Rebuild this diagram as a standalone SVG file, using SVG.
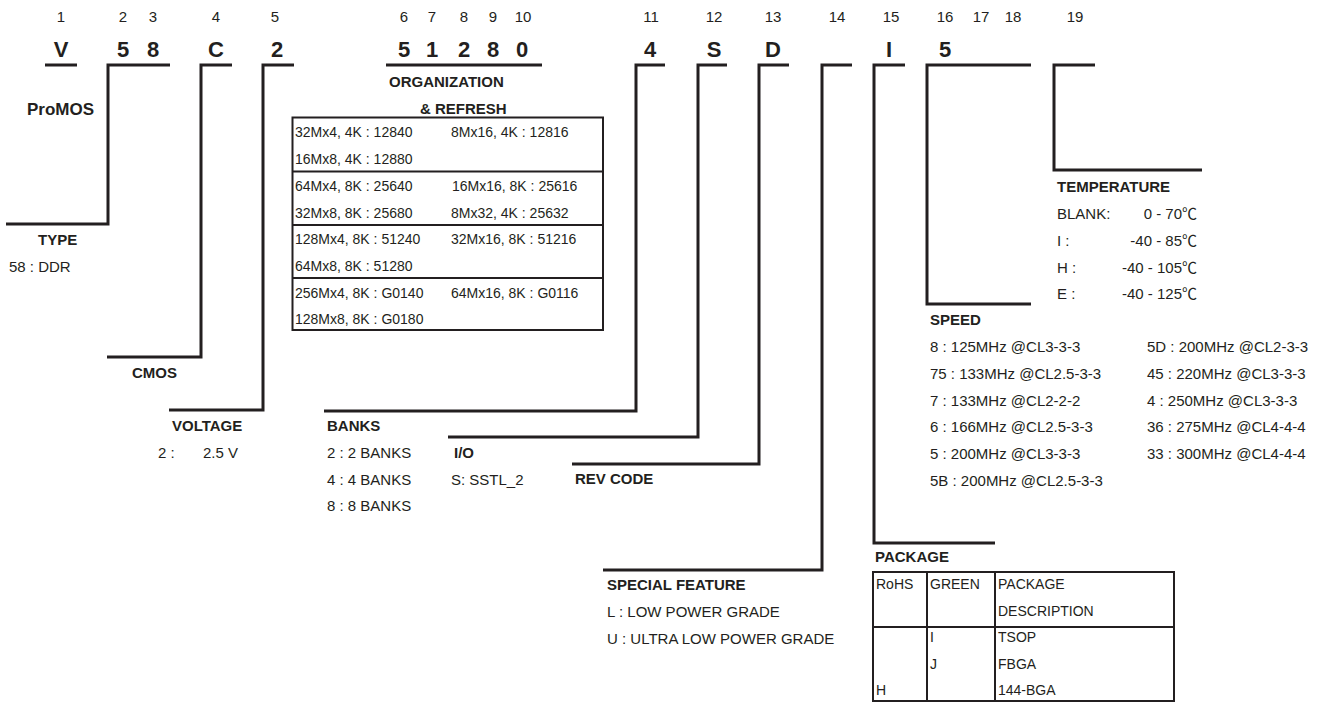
<svg xmlns="http://www.w3.org/2000/svg" width="1326" height="702" viewBox="0 0 1326 702">
<style>
text{font-family:"Liberation Sans",Arial,"Noto Sans CJK SC",sans-serif;fill:#231f20}
.n{font-size:15px;text-anchor:middle}
.b{font-size:22px;font-weight:bold;text-anchor:middle}
.t{font-size:15px;font-weight:bold}
.x{font-size:15px}
.s{font-size:14px}
.e{text-anchor:end}
.c{fill:none;stroke:#231f20;stroke-width:3}
.tb{fill:none;stroke:#231f20;stroke-width:2}
</style>
<rect width="1326" height="702" fill="#fff"/>
<g id="positions">
<text class="n" x="61" y="22">1</text><text class="n" x="123" y="22">2</text><text class="n" x="153" y="22">3</text><text class="n" x="216" y="22">4</text><text class="n" x="275" y="22">5</text><text class="n" x="404" y="22">6</text><text class="n" x="432" y="22">7</text><text class="n" x="464" y="22">8</text><text class="n" x="493" y="22">9</text><text class="n" x="523" y="22">10</text><text class="n" x="651" y="22">11</text><text class="n" x="714" y="22">12</text><text class="n" x="773" y="22">13</text><text class="n" x="837" y="22">14</text><text class="n" x="891" y="22">15</text><text class="n" x="945" y="22">16</text><text class="n" x="981" y="22">17</text><text class="n" x="1013" y="22">18</text><text class="n" x="1075" y="22">19</text>
</g>
<g id="code">
<text class="b" x="61" y="57">V</text><text class="b" x="123" y="57">5</text><text class="b" x="153" y="57">8</text><text class="b" x="216" y="57">C</text><text class="b" x="277" y="57">2</text><text class="b" x="404" y="57">5</text><text class="b" x="432" y="57">1</text><text class="b" x="464" y="57">2</text><text class="b" x="493" y="57">8</text><text class="b" x="522" y="57">0</text><text class="b" x="650" y="57">4</text><text class="b" x="714" y="57">S</text><text class="b" x="773" y="57">D</text><text class="b" x="889" y="57">I</text><text class="b" x="945" y="57">5</text>
</g>
<g id="connectors">
<path class="c" d="M45,65H77"/>
<path class="c" d="M170,65H108V224H6"/>
<path class="c" d="M232,65H201V357H107"/>
<path class="c" d="M294,65H263V410H169"/>
<path class="c" d="M386,65H542"/>
<path class="c" d="M665,65H636V411H324"/>
<path class="c" d="M727,65H698V437H448"/>
<path class="c" d="M789,65H759V464H572"/>
<path class="c" d="M852,65H822V570H603"/>
<path class="c" d="M905,65H874V543H995"/>
<path class="c" d="M1031,65H927V304H1031"/>
<path class="c" d="M1095,65H1054V170H1202"/>
</g>
<g id="maker"><text class="t" x="27" y="115" style="font-size:17px">ProMOS</text></g>
<g id="organization">
<text class="t" x="389" y="87">ORGANIZATION</text>
<text class="t" x="420" y="114">&amp; REFRESH</text>
<rect class="tb" x="292.5" y="117.5" width="310.5" height="212.5"/>
<path class="tb" d="M292.5,171.5H603M292.5,225H603M292.5,278H603"/>
<text class="s" x="295" y="137">32Mx4, 4K : 12840</text><text class="s" x="451" y="137">8Mx16, 4K : 12816</text>
<text class="s" x="295" y="164">16Mx8, 4K : 12880</text>
<text class="s" x="295" y="191">64Mx4, 8K : 25640</text><text class="s" x="452" y="191">16Mx16, 8K : 25616</text>
<text class="s" x="295" y="217.5">32Mx8, 8K : 25680</text><text class="s" x="451" y="217.5">8Mx32, 4K : 25632</text>
<text class="s" x="295" y="244">128Mx4, 8K : 51240</text><text class="s" x="451" y="244">32Mx16, 8K : 51216</text>
<text class="s" x="295" y="271">64Mx8, 8K : 51280</text>
<text class="s" x="295" y="297.5">256Mx4, 8K : G0140</text><text class="s" x="451" y="297.5">64Mx16, 8K : G0116</text>
<text class="s" x="295" y="324">128Mx8, 8K : G0180</text>
</g>
<g id="type"><text class="t" x="38" y="245">TYPE</text><text class="x" x="9" y="272">58 : DDR</text></g>
<g id="cmos"><text class="t" x="132" y="378">CMOS</text></g>
<g id="voltage"><text class="t" x="172" y="431">VOLTAGE</text><text class="x" x="158" y="458">2 :</text><text class="x" x="203" y="458">2.5 V</text></g>
<g id="banks"><text class="t" x="327" y="431">BANKS</text><text class="x" x="327" y="458">2 : 2 BANKS</text><text class="x" x="327" y="485">4 : 4 BANKS</text><text class="x" x="327" y="511">8 : 8 BANKS</text></g>
<g id="io"><text class="t" x="454" y="458">I/O</text><text class="x" x="451" y="485">S: SSTL_2</text></g>
<g id="revcode"><text class="t" x="575" y="484">REV CODE</text></g>
<g id="special"><text class="t" x="607" y="590">SPECIAL FEATURE</text><text class="x" x="607" y="617">L : LOW POWER GRADE</text><text class="x" x="607" y="644">U : ULTRA LOW POWER GRADE</text></g>
<g id="package">
<text class="t" x="875" y="562">PACKAGE</text>
<rect class="tb" x="873" y="572" width="301" height="129"/>
<path class="tb" d="M927,572V701M995,572V701M873,627H1174"/>
<text class="s" x="876" y="589">RoHS</text><text class="s" x="930" y="589">GREEN</text><text class="s" x="998" y="589">PACKAGE</text>
<text class="s" x="998" y="616">DESCRIPTION</text>
<text class="s" x="930" y="642">I</text><text class="s" x="998" y="642">TSOP</text>
<text class="s" x="930" y="668.5">J</text><text class="s" x="998" y="668.5">FBGA</text>
<text class="s" x="876" y="695">H</text><text class="s" x="998" y="695">144-BGA</text>
</g>
<g id="speed">
<text class="t" x="930" y="325">SPEED</text>
<text class="x" x="930" y="352">8 : 125MHz @CL3-3-3</text><text class="x" x="1147" y="352">5D : 200MHz @CL2-3-3</text>
<text class="x" x="930" y="379">75 : 133MHz @CL2.5-3-3</text><text class="x" x="1147" y="379">45 : 220MHz @CL3-3-3</text>
<text class="x" x="930" y="405.5">7 : 133MHz @CL2-2-2</text><text class="x" x="1147" y="405.5">4 : 250MHz @CL3-3-3</text>
<text class="x" x="930" y="432">6 : 166MHz @CL2.5-3-3</text><text class="x" x="1147" y="432">36 : 275MHz @CL4-4-4</text>
<text class="x" x="930" y="459">5 : 200MHz @CL3-3-3</text><text class="x" x="1147" y="459">33 : 300MHz @CL4-4-4</text>
<text class="x" x="930" y="485.5">5B : 200MHz @CL2.5-3-3</text>
</g>
<g id="temperature">
<text class="t" x="1057" y="192">TEMPERATURE</text>
<text class="x" x="1057" y="219">BLANK:</text><text class="x e" x="1197" y="219">0 - 70℃</text>
<text class="x" x="1057" y="246">I :</text><text class="x e" x="1197" y="246">-40 - 85℃</text>
<text class="x" x="1057" y="273">H :</text><text class="x e" x="1197" y="273">-40 - 105℃</text>
<text class="x" x="1057" y="299">E :</text><text class="x e" x="1197" y="299">-40 - 125℃</text>
</g>
</svg>
